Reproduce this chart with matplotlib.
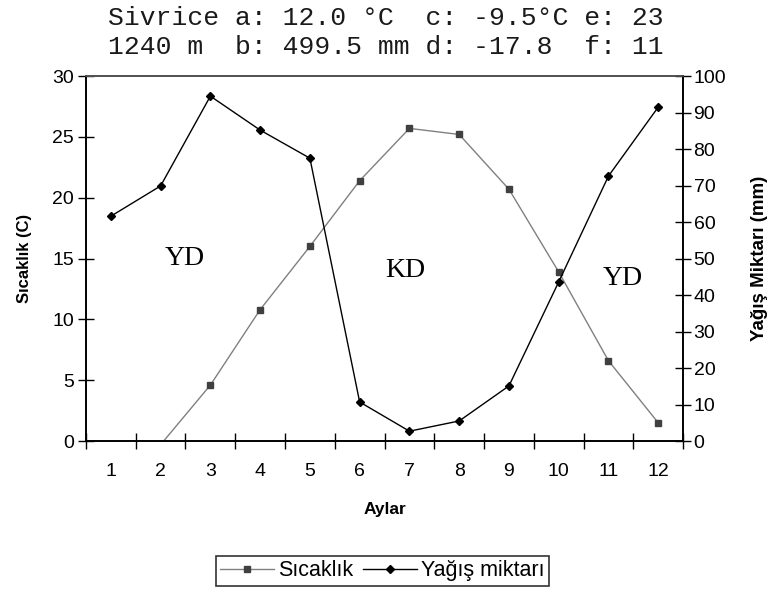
import matplotlib
matplotlib.use('Agg')
import matplotlib.pyplot as plt
import numpy as np

# monthly values
months = np.arange(1, 13)
month_labels = [str(m) for m in months]
temperature = [-4.0, -0.3, 4.6, 10.8, 16.0, 21.4, 25.7, 25.2, 20.7, 13.9, 6.6, 1.5]
precipitation = [61.6, 69.9, 94.5, 85.2, 77.5, 10.7, 2.7, 5.5, 15.1, 43.6, 72.6, 91.5]

title_lines = ['Sivrice a: 12.0 °C  c: -9.5°C e: 23',
               '1240 m  b: 499.5 mm d: -17.8  f: 11']

plt.rcParams['font.family'] = ['Liberation Sans', 'DejaVu Sans']

fig = plt.figure(figsize=(7.71, 5.92), dpi=100)
ax = fig.add_axes([0.1115, 0.255, 0.7745, 0.6165])
ax2 = ax.twinx()

l1, = ax.plot(months, temperature, color='#808080', lw=1.0, marker='s', ms=5,
              mfc='#404040', mec='#404040', label='Sıcaklık')
l2, = ax2.plot(months, precipitation, color='black', lw=1.0, marker='D', ms=4.5,
               mfc='black', mec='black', label='Yağış miktarı')

ax.set_xlim(0.5, 12.5)
ax.set_ylim(0, 30)
ax2.set_ylim(0, 100)
ax.set_yticks(np.arange(0, 31, 5))
ax2.set_yticks(np.arange(0, 101, 10))
ax.set_xticks(months)
ax.set_xticklabels(month_labels)
ax.set_xticks(np.arange(0.5, 12.6, 1), minor=True)

ax.tick_params(axis='x', which='major', length=0, pad=16, labelsize=14)
ax.tick_params(axis='x', which='minor', direction='inout', length=11, width=1)
ax.tick_params(axis='y', direction='inout', length=11, width=1, labelsize=14, pad=3)
ax2.tick_params(axis='y', direction='inout', length=11, width=1, labelsize=14, pad=2)

for a in (ax, ax2):
    for s in a.spines.values():
        s.set_linewidth(1.2)
    a.spines['top'].set_color('#505050')

ax.set_xlabel('Aylar', fontsize=12.5, fontweight='bold', labelpad=16)
ax.set_ylabel('Sıcaklık (C)', fontsize=12, fontweight='bold', labelpad=15)
ax2.set_ylabel('Yağış Miktarı (mm)', fontsize=13.5, fontweight='bold', labelpad=18)

# season labels
serif = ['Liberation Serif', 'DejaVu Serif']
ax.text(2.49, 15.0, 'YD', fontsize=20, family=serif, ha='center', va='center')
ax.text(6.91, 14.05, 'KD', fontsize=20, family=serif, ha='center', va='center')
ax.text(11.29, 13.4, 'YD', fontsize=20, family=serif, ha='center', va='center')

fig.text(0.14, 0.970, title_lines[0], family='Liberation Mono', fontsize=19,
         ha='left', va='center', color='#1a1a1a')
fig.text(0.14, 0.921, title_lines[1], family='Liberation Mono', fontsize=19,
         ha='left', va='center', color='#1a1a1a')

leg = fig.legend([l1, l2], ['Sıcaklık', 'Yağış miktarı'], loc='center',
                 bbox_to_anchor=(0.496, 0.0355), ncol=2, fontsize=15.5,
                 frameon=True, fancybox=False, edgecolor='black',
                 handlelength=2.5, columnspacing=0.45, handletextpad=0.2,
                 borderpad=0.2, borderaxespad=0)
leg.get_frame().set_linewidth(1.2)

fig.savefig('out.png', dpi=100)
